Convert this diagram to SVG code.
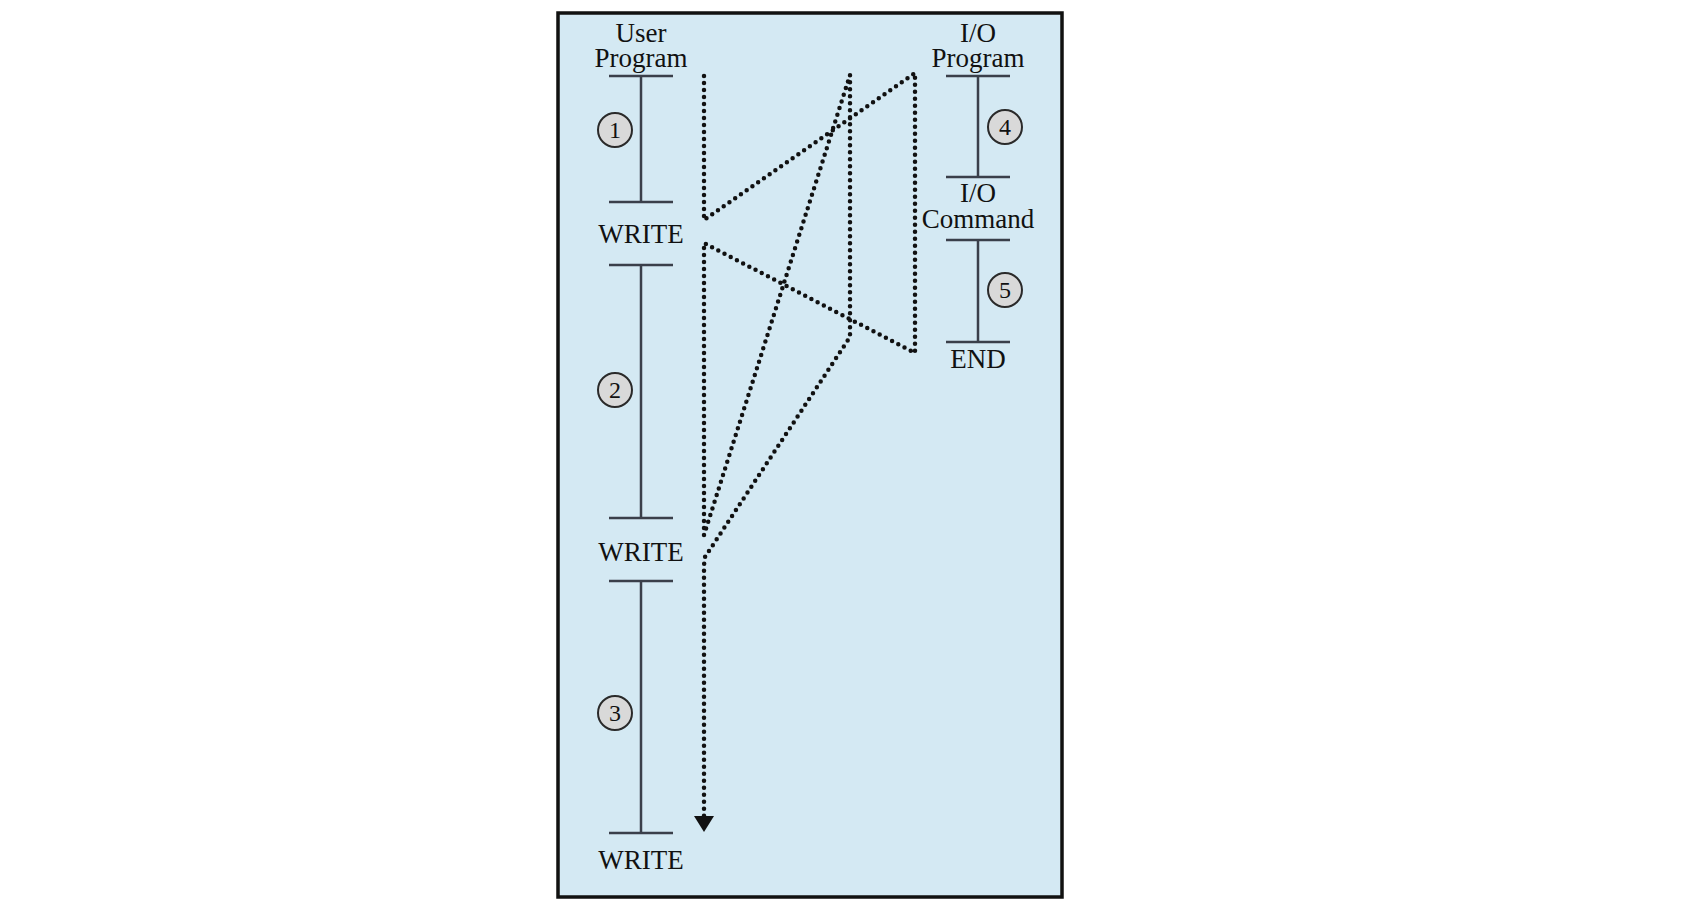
<svg xmlns="http://www.w3.org/2000/svg" width="1700" height="910" viewBox="0 0 1700 910">
<defs>
<style>
.lbl{font-family:"Liberation Serif","Times New Roman",serif;font-size:27px;fill:#111;text-anchor:middle}
.num{font-family:"Liberation Serif","Times New Roman",serif;font-size:24px;fill:#111;text-anchor:middle}
.bar{stroke:#3a3f4a;stroke-width:2.5;fill:none}
.circ{fill:#d9d9d9;stroke:#2a2a2a;stroke-width:2}
.dot{stroke:#111;stroke-width:4.5;fill:none;stroke-dasharray:0 7;stroke-linecap:round;stroke-linejoin:round}
</style>
<marker id="arr" viewBox="0 0 16 20" markerWidth="16" markerHeight="20" refX="0" refY="10" orient="auto" markerUnits="userSpaceOnUse">
<path d="M0,0 L16,10 L0,20 Z" fill="#111"/>
</marker>
</defs>
<rect x="0" y="0" width="1700" height="910" fill="#ffffff"/>
<rect x="558" y="13" width="504" height="884" fill="#d4e9f3" stroke="#111" stroke-width="3.5"/>

<g id="user-program">
<text class="lbl" x="641" y="42">User</text>
<text class="lbl" x="641" y="67">Program</text>
<line class="bar" x1="609" y1="76" x2="673" y2="76"/>
<line class="bar" x1="641" y1="76" x2="641" y2="202"/>
<line class="bar" x1="609" y1="202" x2="673" y2="202"/>
<text class="lbl" x="641" y="243">WRITE</text>
<line class="bar" x1="609" y1="265" x2="673" y2="265"/>
<line class="bar" x1="641" y1="265" x2="641" y2="518"/>
<line class="bar" x1="609" y1="518" x2="673" y2="518"/>
<text class="lbl" x="641" y="561">WRITE</text>
<line class="bar" x1="609" y1="581" x2="673" y2="581"/>
<line class="bar" x1="641" y1="581" x2="641" y2="833"/>
<line class="bar" x1="609" y1="833" x2="673" y2="833"/>
<text class="lbl" x="641" y="869">WRITE</text>
</g>

<g id="step1"><circle class="circ" cx="615" cy="130" r="17"/><text class="num" x="615" y="138">1</text></g>
<g id="step2"><circle class="circ" cx="615" cy="390" r="17"/><text class="num" x="615" y="398">2</text></g>
<g id="step3"><circle class="circ" cx="615" cy="713" r="17"/><text class="num" x="615" y="721">3</text></g>

<g id="io-program">
<text class="lbl" x="978" y="42">I/O</text>
<text class="lbl" x="978" y="67">Program</text>
<line class="bar" x1="946" y1="76" x2="1010" y2="76"/>
<line class="bar" x1="978" y1="76" x2="978" y2="177"/>
<line class="bar" x1="946" y1="177" x2="1010" y2="177"/>
<text class="lbl" x="978" y="202">I/O</text>
<text class="lbl" x="978" y="228">Command</text>
<line class="bar" x1="946" y1="240" x2="1010" y2="240"/>
<line class="bar" x1="978" y1="240" x2="978" y2="342"/>
<line class="bar" x1="946" y1="342" x2="1010" y2="342"/>
<text class="lbl" x="978" y="368">END</text>
</g>

<g id="step4"><circle class="circ" cx="1005" cy="127" r="17"/><text class="num" x="1005" y="135">4</text></g>
<g id="step5"><circle class="circ" cx="1005" cy="290" r="17"/><text class="num" x="1005" y="298">5</text></g>

<g id="connectors">
<polyline class="dot" points="704,76 704,220 915,73 915,353 704,243 704,535 850,75 850,337 705,557 704,565 704,816" marker-end="url(#arr)"/>
</g>
</svg>
